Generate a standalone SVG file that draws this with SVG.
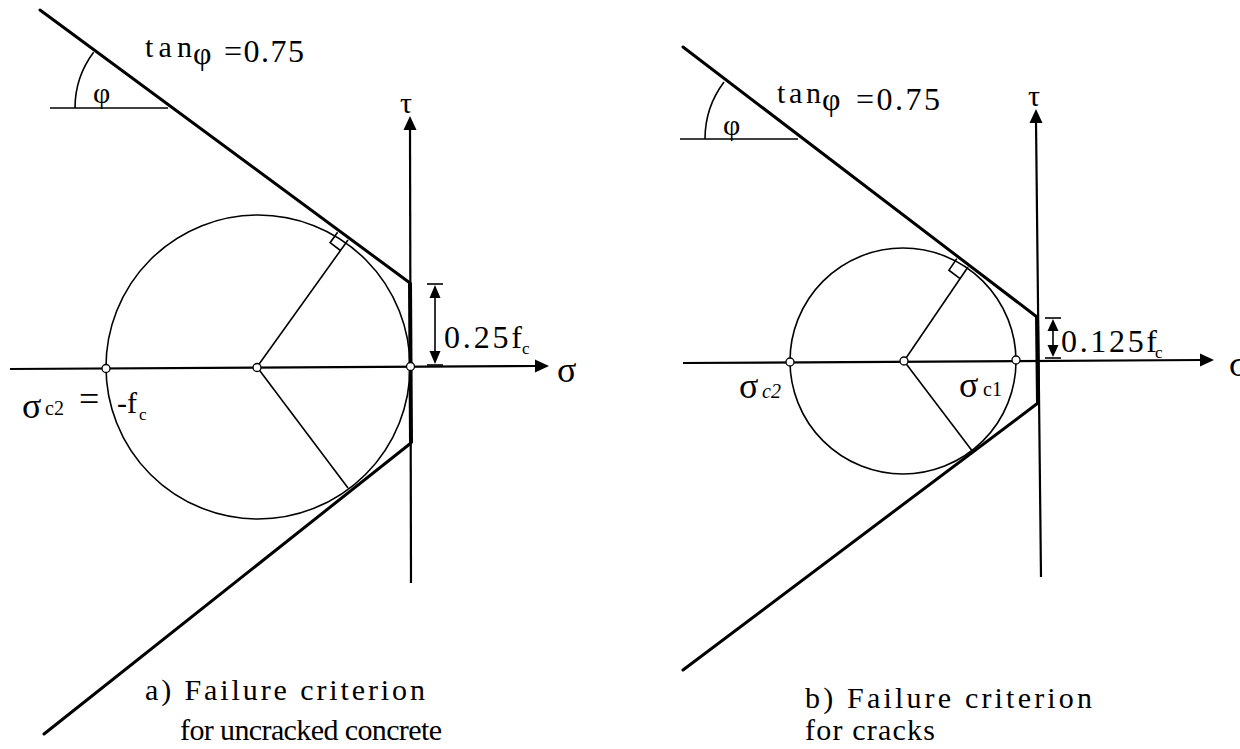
<svg xmlns="http://www.w3.org/2000/svg" width="1240" height="749" viewBox="0 0 1240 749">
<defs>
<style>
.env{stroke:#000;stroke-width:3;fill:none;stroke-linecap:round}
.cut{stroke:#000;stroke-width:4;fill:none}
.ax{stroke:#000;stroke-width:2.2;fill:none}
.thin{stroke:#000;stroke-width:1.6;fill:none}
.pt{fill:#fff;stroke:#000;stroke-width:1.3}
.ah{fill:#000;stroke:none}
.cap{font-size:30px}
.lbl{font-size:32px}
.gr{font-size:36px}
.sub{font-size:17px}
</style>
</defs>

<g font-family="'Liberation Serif', 'Times New Roman', 'DejaVu Serif', serif" fill="#000">
<!-- Left diagram: failure criterion for uncracked concrete -->
<g id="left-diagram">
  <g id="left-axes">
    <line class="ax" x1="10" y1="369" x2="537" y2="366"/>
    <polygon class="ah" points="549,366 535,359.5 535,372.5"/>
    <line class="ax" x1="410" y1="128" x2="411" y2="583"/>
    <polygon class="ah" points="410,116 403.5,130 416.5,130"/>
    <text class="gr" x="557" y="382">σ</text>
    <text x="400" y="113" font-size="30">τ</text>
  </g>
  <g id="left-circle">
    <circle class="thin" cx="258" cy="367" r="152"/>
    <line class="thin" x1="257" y1="367" x2="348" y2="240"/>
    <line class="thin" x1="257" y1="367" x2="348" y2="488"/>
    <path class="thin" d="M337.6,232.2 L330.1,242.7 L340.5,250.5"/>
  </g>
  <g id="left-envelope">
    <line class="env" x1="40" y1="10" x2="410" y2="283"/>
    <line class="env" x1="411" y1="443" x2="44" y2="734"/>
    <line class="cut" x1="410" y1="283" x2="411" y2="443"/>
  </g>
  <g id="left-angle">
    <line class="thin" x1="50" y1="108" x2="168" y2="108"/>
    <path class="thin" d="M75,108 A93,93 0 0 1 93.6,52.2"/>
    <text x="93" y="103" font-size="30">φ</text>
    <text x="145" y="57" font-size="30" textLength="47">tan</text>
    <text x="193" y="64" font-size="32">φ</text>
    <text x="224" y="62" class="lbl" textLength="80">=0.75</text>
  </g>
  <g id="left-dimension">
    <line class="thin" x1="435" y1="290" x2="435" y2="360"/>
    <line class="thin" x1="427" y1="284" x2="443" y2="284"/>
    <line class="thin" x1="427" y1="365" x2="443" y2="365"/>
    <polygon class="ah" points="435,285 429.5,298 440.5,298"/>
    <polygon class="ah" points="435,364 429.5,351 440.5,351"/>
    <text class="lbl" x="444" y="348" textLength="78">0.25f</text>
    <text class="sub" x="522" y="354">c</text>
  </g>
  <g id="left-points">
    <circle class="pt" cx="106" cy="368.5" r="4"/>
    <circle class="pt" cx="257" cy="367.5" r="4"/>
    <circle class="pt" cx="410.5" cy="366.5" r="4"/>
  </g>
  <g id="left-labels">
    <text class="gr" x="22" y="418">σ</text>
    <text x="45" y="415" font-size="20">c2</text>
    <text x="79" y="411" font-size="36">=</text>
    <text x="117" y="413" font-size="30">-f</text>
    <text class="sub" x="139" y="420">c</text>
  </g>
  <g id="left-caption">
    <text class="cap" x="145" y="700" textLength="280">a) Failure criterion</text>
    <text class="cap" x="180" y="740" textLength="262">for uncracked concrete</text>
  </g>
</g>

<!-- Right diagram: failure criterion for cracks -->
<g id="right-diagram">
  <g id="right-axes">
    <line class="ax" x1="683" y1="363" x2="1202" y2="360"/>
    <polygon class="ah" points="1214,360 1200,353.5 1200,366.5"/>
    <line class="ax" x1="1036" y1="121" x2="1041" y2="577"/>
    <polygon class="ah" points="1036,109 1029.5,123 1042.5,123"/>
    <text class="gr" x="1229" y="376">σ</text>
    <text x="1028" y="106" font-size="30">τ</text>
  </g>
  <g id="right-circle">
    <circle class="thin" cx="903" cy="361" r="113"/>
    <line class="thin" x1="904" y1="361" x2="968" y2="267"/>
    <line class="thin" x1="904" y1="361" x2="973" y2="452"/>
    <path class="thin" d="M956.8,258.6 L948.9,270.2 L960.1,278.6"/>
  </g>
  <g id="right-envelope">
    <line class="env" x1="683" y1="47" x2="1037" y2="317"/>
    <line class="env" x1="1038" y1="403" x2="683" y2="670"/>
    <line class="cut" x1="1037" y1="317" x2="1038" y2="403"/>
  </g>
  <g id="right-angle">
    <line class="thin" x1="680" y1="139" x2="798" y2="139"/>
    <path class="thin" d="M705,139 A95,95 0 0 1 724,82"/>
    <text x="723" y="135" font-size="30">φ</text>
    <text x="777" y="103" font-size="30" textLength="44">tan</text>
    <text x="822" y="110" font-size="32">φ</text>
    <text x="856" y="110" class="lbl" textLength="84">=0.75</text>
  </g>
  <g id="right-dimension">
    <line class="thin" x1="1053" y1="322" x2="1053" y2="354"/>
    <line class="thin" x1="1045" y1="318" x2="1061" y2="318"/>
    <line class="thin" x1="1045" y1="358" x2="1061" y2="358"/>
    <polygon class="ah" points="1053,319 1047.5,331 1058.5,331"/>
    <polygon class="ah" points="1053,357 1047.5,345 1058.5,345"/>
    <text class="lbl" x="1061" y="352" textLength="96">0.125f</text>
    <text class="sub" x="1155" y="358">c</text>
  </g>
  <g id="right-points">
    <circle class="pt" cx="790" cy="362" r="4"/>
    <circle class="pt" cx="904" cy="361" r="4"/>
    <circle class="pt" cx="1016" cy="360" r="4"/>
  </g>
  <g id="right-labels">
    <text class="gr" x="739" y="398">σ</text>
    <text x="762" y="398" font-size="20" font-style="italic">c2</text>
    <text class="gr" x="959" y="397">σ</text>
    <text x="983" y="396" font-size="20">c1</text>
  </g>
  <g id="right-caption">
    <text class="cap" x="805" y="708" textLength="287">b) Failure criterion</text>
    <text class="cap" x="805" y="740" textLength="130">for cracks</text>
  </g>
</g>
</g>
</svg>
